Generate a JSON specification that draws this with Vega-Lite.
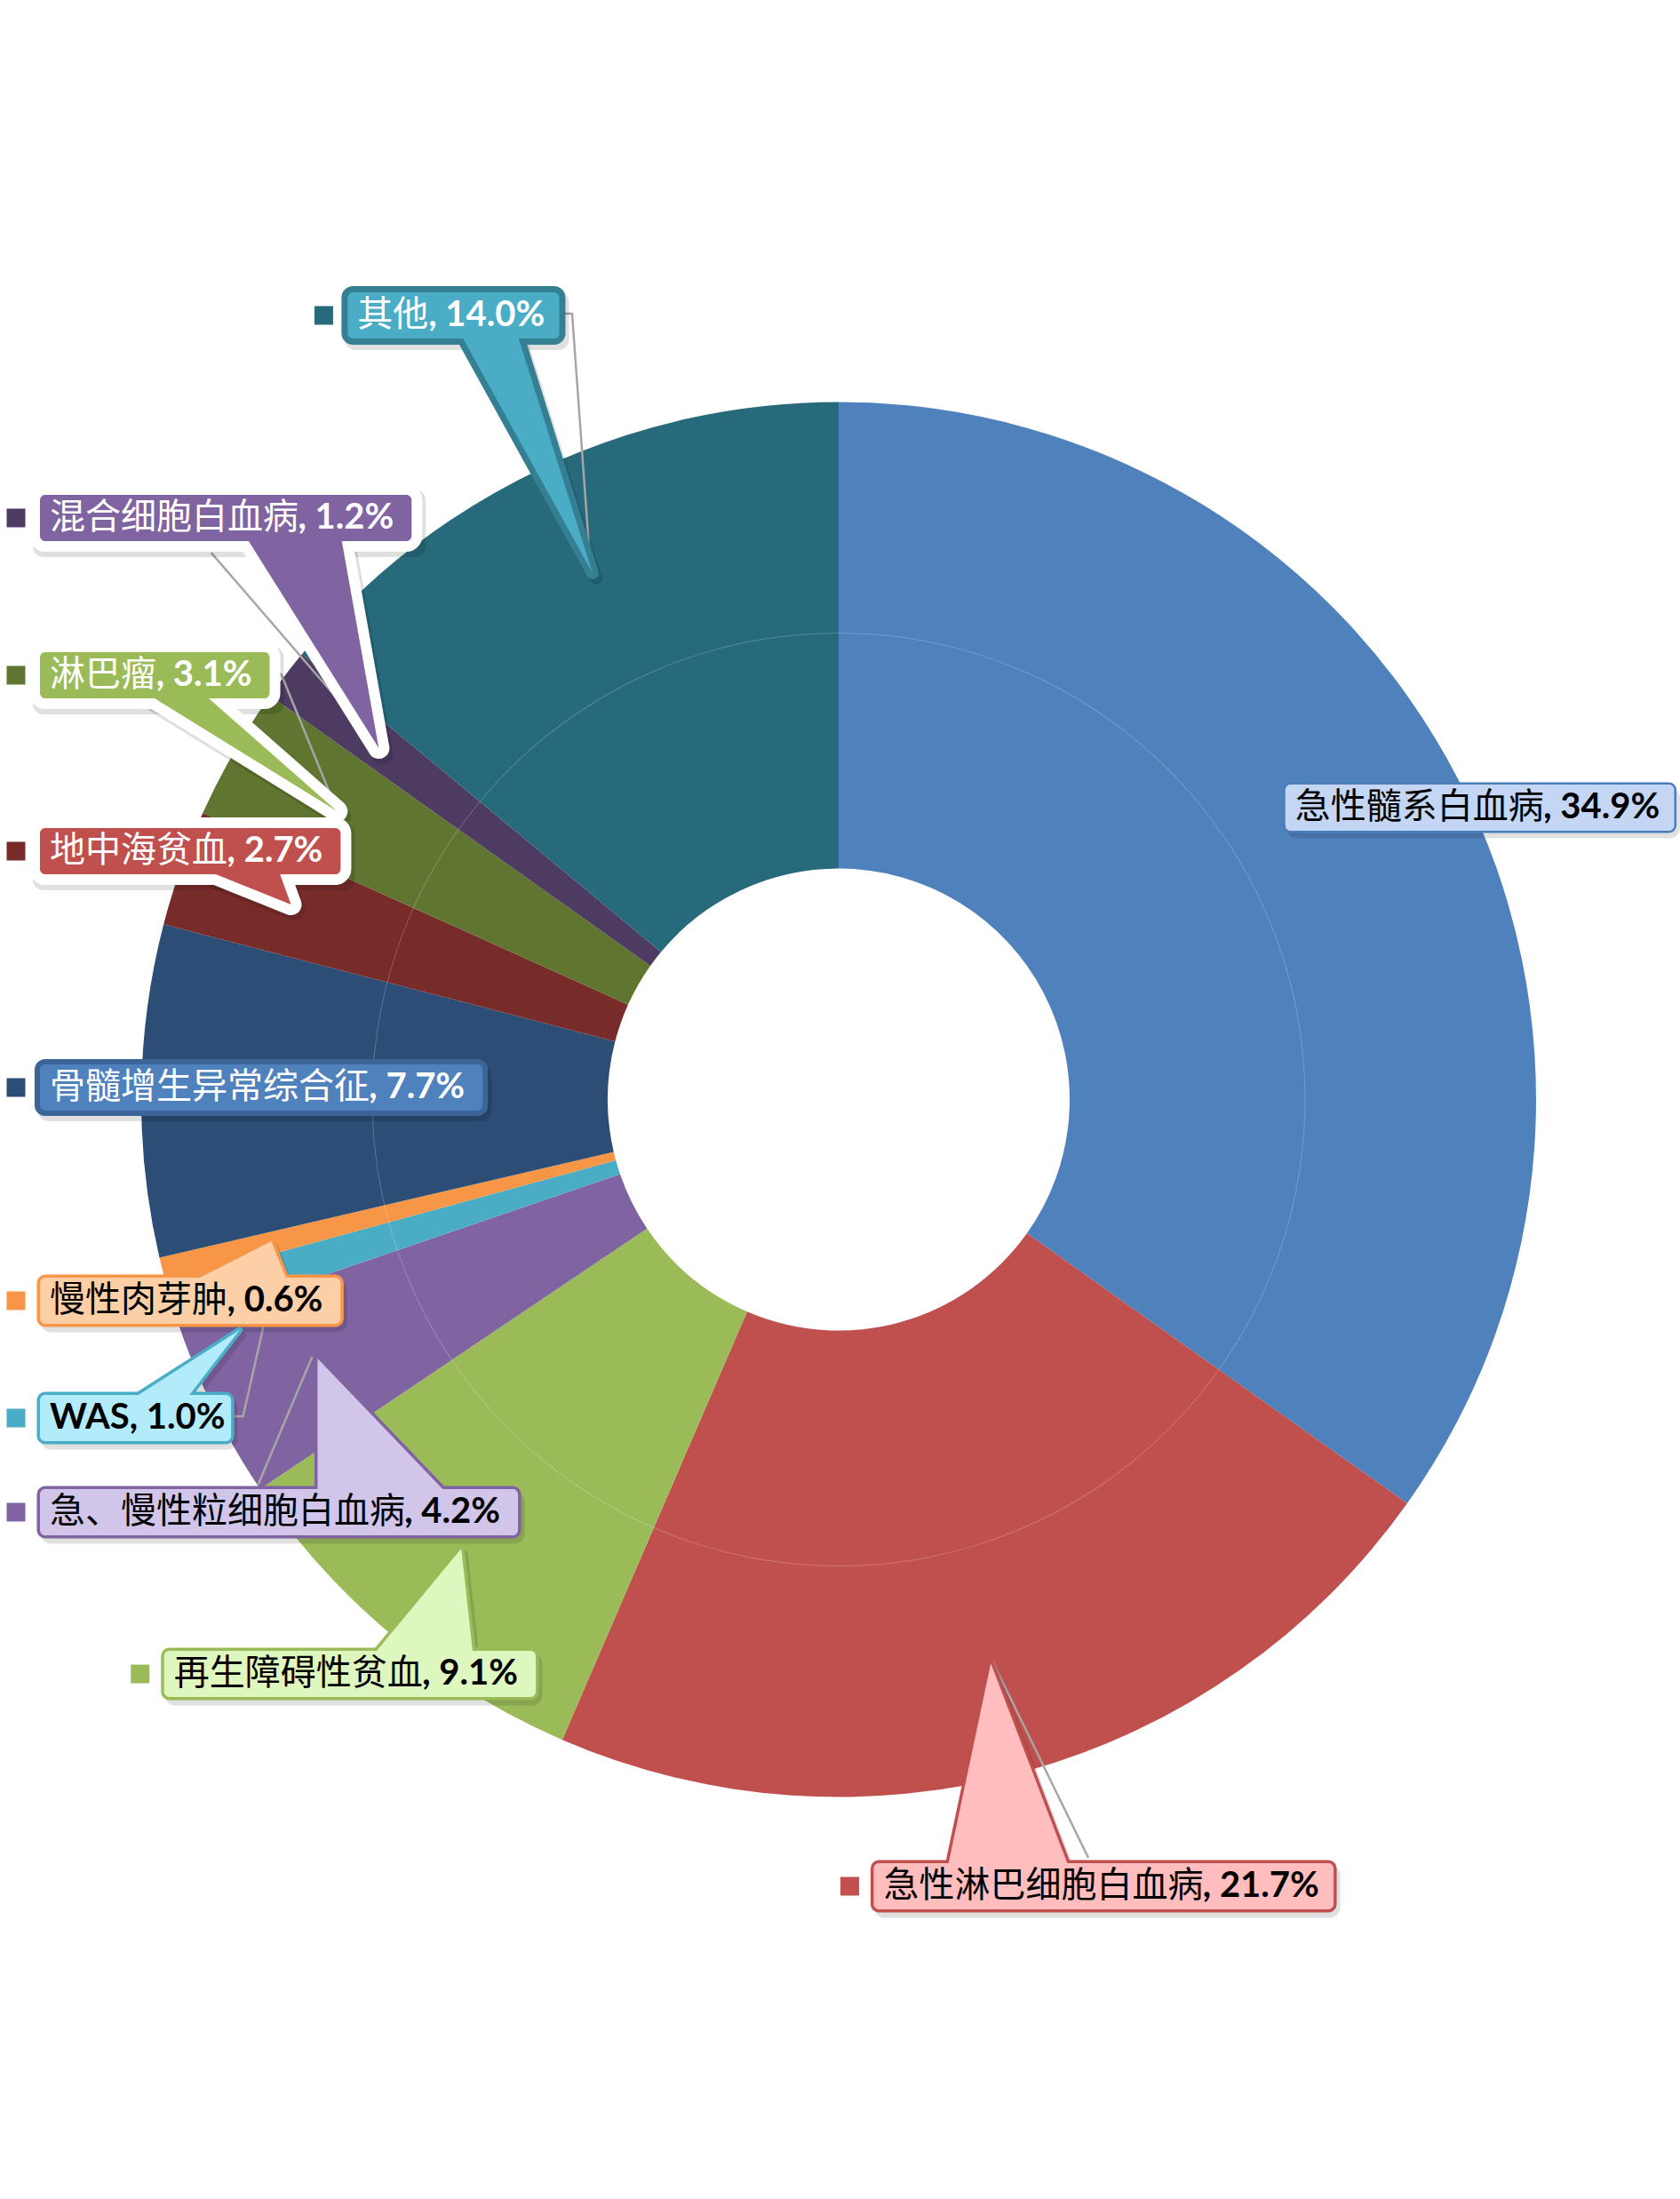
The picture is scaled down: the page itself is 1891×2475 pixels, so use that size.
{
  "$schema": "https://vega.github.io/schema/vega-lite/v6.json",
  "width": 1891,
  "height": 2475,
  "autosize": {"type": "fit", "contains": "padding"},
  "padding": 0,
  "background": "#ffffff",
  "config": {"view": {"stroke": null}},
  "datasets": {
    "cases": [
      {"category": "急性髓系白血病", "value": 34.9},
      {"category": "急性淋巴细胞白血病", "value": 21.7},
      {"category": "再生障碍性贫血", "value": 9.1},
      {"category": "急、慢性粒细胞白血病", "value": 4.2},
      {"category": "WAS", "value": 1.0},
      {"category": "慢性肉芽肿", "value": 0.6},
      {"category": "骨髓增生异常综合征", "value": 7.7},
      {"category": "地中海贫血", "value": 2.7},
      {"category": "淋巴瘤", "value": 3.1},
      {"category": "混合细胞白血病", "value": 1.2},
      {"category": "其他", "value": 14.0}
    ],
    "callouts": [
      {"category": "急性髓系白血病", "tx": 0.6554, "ty": -0.4185},
      {"category": "急性淋巴细胞白血病", "tx": 0.0643, "ty": 1.128},
      {"category": "再生障碍性贫血", "tx": -0.9548, "ty": 0.8236},
      {"category": "急、慢性粒细胞白血病", "tx": -1.1331, "ty": 0.5917},
      {"category": "WAS", "tx": -1.1331, "ty": 0.4567},
      {"category": "慢性肉芽肿", "tx": -1.1331, "ty": 0.2885},
      {"category": "骨髓增生异常综合征", "tx": -1.1331, "ty": -0.0172},
      {"category": "地中海贫血", "tx": -1.1331, "ty": -0.3561},
      {"category": "淋巴瘤", "tx": -1.1331, "ty": -0.6083},
      {"category": "混合细胞白血病", "tx": -1.1331, "ty": -0.8338},
      {"category": "其他", "tx": -0.6911, "ty": -1.1242}
    ],
    "pointers": [
      {"category": "急性淋巴细胞白血病", "v": 1.0975, "a": 0.1573, "b": 0.3293},
      {"category": "急性淋巴细胞白血病", "v": 0.8083, "a": 0.2185, "b": 0.2185},
      {"category": "再生障碍性贫血", "v": 0.793, "a": -0.6656, "b": -0.5255},
      {"category": "再生障碍性贫血", "v": 0.6439, "a": -0.542, "b": -0.542},
      {"category": "急、慢性粒细胞白血病", "v": 0.5611, "a": -0.7484, "b": -0.5662},
      {"category": "急、慢性粒细胞白血病", "v": 0.3713, "a": -0.7484, "b": -0.7484},
      {"category": "WAS", "v": 0.4261, "a": -1.0096, "b": -0.9344},
      {"category": "WAS", "v": 0.3306, "a": -0.8605, "b": -0.8605},
      {"category": "慢性肉芽肿", "v": 0.258, "a": -0.9229, "b": -0.793},
      {"category": "慢性肉芽肿", "v": 0.2032, "a": -0.8146, "b": -0.8146},
      {"category": "地中海贫血", "v": -0.3255, "a": -0.9013, "b": -0.8032},
      {"category": "地中海贫血", "v": -0.2796, "a": -0.7866, "b": -0.7866},
      {"category": "淋巴瘤", "v": -0.5777, "a": -0.9866, "b": -0.9076},
      {"category": "淋巴瘤", "v": -0.4134, "a": -0.7204, "b": -0.7204},
      {"category": "混合细胞白血病", "v": -0.8032, "a": -0.849, "b": -0.714},
      {"category": "混合细胞白血病", "v": -0.5038, "a": -0.6605, "b": -0.6605},
      {"category": "其他", "v": -1.0936, "a": -0.5408, "b": -0.4605},
      {"category": "其他", "v": -0.7548, "a": -0.3535, "b": -0.3535}
    ],
    "leaders": [
      {"category": "其他", "k": 0, "u": -0.4057, "v": -1.1268},
      {"category": "其他", "k": 1, "u": -0.3828, "v": -1.1268},
      {"category": "其他", "k": 2, "u": -0.3573, "v": -0.7739},
      {"category": "混合细胞白血病", "k": 0, "u": -0.9013, "v": -0.7841},
      {"category": "混合细胞白血病", "k": 1, "u": -0.6885, "v": -0.5382},
      {"category": "淋巴瘤", "k": 0, "u": -0.8223, "v": -0.6096},
      {"category": "淋巴瘤", "k": 1, "u": -0.8006, "v": -0.6096},
      {"category": "淋巴瘤", "k": 2, "u": -0.7306, "v": -0.4389},
      {"category": "WAS", "k": 0, "u": -0.8822, "v": 0.4541},
      {"category": "WAS", "k": 1, "u": -0.8554, "v": 0.4541},
      {"category": "WAS", "k": 2, "u": -0.8223, "v": 0.3089},
      {"category": "急、慢性粒细胞白血病", "k": 0, "u": -0.8338, "v": 0.5522},
      {"category": "急、慢性粒细胞白血病", "k": 1, "u": -0.7561, "v": 0.3688},
      {"category": "急性淋巴细胞白血病", "k": 0, "u": 0.3586, "v": 1.0873},
      {"category": "急性淋巴细胞白血病", "k": 1, "u": 0.221, "v": 0.8057}
    ]
  },
  "layer": [
    {
      "data": {"name": "cases"},
      "transform": [{"window": [{"op": "row_number", "as": "idx"}]}],
      "mark": {"type": "arc", "outerRadius": 785, "innerRadius": 260},
      "encoding": {
        "theta": {"field": "value", "type": "quantitative", "stack": true},
        "order": {"field": "idx", "type": "quantitative"},
        "fill": {
          "field": "category",
          "type": "nominal",
          "scale": {
            "domain": ["急性髓系白血病", "急性淋巴细胞白血病", "再生障碍性贫血", "急、慢性粒细胞白血病", "WAS", "慢性肉芽肿", "骨髓增生异常综合征", "地中海贫血", "淋巴瘤", "混合细胞白血病", "其他"],
            "range": ["#4F81BD", "#C0504D", "#9BBB59", "#8064A2", "#4BACC6", "#F79646", "#2C4D75", "#772C2A", "#5F7530", "#4D3B62", "#276A7C"]
          },
          "legend": null
        }
      }
    },
    {
      "data": {"values": [{}]},
      "mark": {"type": "arc", "innerRadius": 524.5, "outerRadius": 525.5, "theta": 0, "theta2": 6.2832, "fill": "#ffffff", "opacity": 0.22},
      "encoding": {}
    },
    {
      "data": {"name": "leaders"},
      "mark": {"type": "line", "color": "#A6A6A6", "strokeWidth": 2.5},
      "encoding": {
        "x": {"field": "u", "type": "quantitative", "scale": {"domain": [-1.20446, 1.20446], "nice": false, "zero": false}, "axis": null},
        "y": {"field": "v", "type": "quantitative", "scale": {"domain": [-1.57643, 1.57643], "nice": false, "zero": false, "reverse": true}, "axis": null},
        "detail": {"field": "category", "type": "nominal"},
        "order": {"field": "k", "type": "quantitative"}
      }
    },
    {
      "data": {"name": "pointers"},
      "transform": [
        {"calculate": "indexof(['地中海贫血', '淋巴瘤', '混合细胞白血病'], datum.category) >= 0 ? 24 : datum.category == '其他' ? 14 : 7", "as": "sw"},
        {"calculate": "datum.a + 4 / 785", "as": "sa"},
        {"calculate": "datum.b + 4 / 785", "as": "sb"},
        {"calculate": "datum.v + 6 / 785", "as": "sv"}
      ],
      "mark": {"type": "area", "orient": "horizontal", "strokeJoin": "round", "color": "#000000", "stroke": "#000000", "opacity": 0.12},
      "encoding": {
        "y": {"field": "sv", "type": "quantitative", "scale": {"domain": [-1.57643, 1.57643], "nice": false, "zero": false, "reverse": true}, "axis": null},
        "x": {"field": "sa", "type": "quantitative", "stack": null, "scale": {"domain": [-1.20446, 1.20446], "nice": false, "zero": false}, "axis": null},
        "x2": {"field": "sb"},
        "detail": {"field": "category", "type": "nominal"},
        "strokeWidth": {"field": "sw", "type": "quantitative", "scale": null}
      }
    },
    {
      "data": {"name": "callouts"},
      "transform": [
        {"lookup": "category", "from": {"data": {"name": "cases"}, "key": "category", "fields": ["value"]}},
        {"calculate": "test(regexp('^[A-Za-z]+$'), datum.category)", "as": "latin"},
        {"calculate": "format(datum.value, '.1f') + '%'", "as": "pct"},
        {"calculate": "datum.latin ? '' : datum.category", "as": "nameText"},
        {"calculate": "datum.latin ? datum.category + ', ' + datum.pct : ', ' + datum.pct", "as": "boldText"},
        {"calculate": "datum.tx + length(datum.nameText) * 40 / 785", "as": "bx"},
        {"calculate": "indexof(['地中海贫血', '淋巴瘤', '混合细胞白血病'], datum.category) >= 0 ? 24 : datum.category == '其他' ? 14 : datum.category == '骨髓增生异常综合征' ? 12 : datum.category == '急性髓系白血病' ? 5 : 7", "as": "sw"},
        {"calculate": "datum.tx - (11 + datum.sw / 2 - 4) / 785", "as": "x0"},
        {"calculate": "datum.bx + length(datum.boldText) * (datum.latin ? 21.5 : 19.5) / 785 + (11 + datum.sw / 2 + 4) / 785", "as": "x1"},
        {"calculate": "datum.ty - (26 + datum.sw / 2 - 6) / 785", "as": "y0"},
        {"calculate": "datum.ty + (26 + datum.sw / 2 + 6) / 785", "as": "y1"}
      ],
      "mark": {"type": "rect", "cornerRadius": 12, "color": "#000000", "opacity": 0.12},
      "encoding": {
        "x": {"field": "x0", "type": "quantitative", "scale": {"domain": [-1.20446, 1.20446], "nice": false, "zero": false}, "axis": null},
        "x2": {"field": "x1"},
        "y": {"field": "y0", "type": "quantitative", "scale": {"domain": [-1.57643, 1.57643], "nice": false, "zero": false, "reverse": true}, "axis": null},
        "y2": {"field": "y1"}
      }
    },
    {
      "data": {"name": "callouts"},
      "transform": [
        {"lookup": "category", "from": {"data": {"name": "cases"}, "key": "category", "fields": ["value"]}},
        {"calculate": "test(regexp('^[A-Za-z]+$'), datum.category)", "as": "latin"},
        {"calculate": "format(datum.value, '.1f') + '%'", "as": "pct"},
        {"calculate": "datum.latin ? '' : datum.category", "as": "nameText"},
        {"calculate": "datum.latin ? datum.category + ', ' + datum.pct : ', ' + datum.pct", "as": "boldText"},
        {"calculate": "datum.tx + length(datum.nameText) * 40 / 785", "as": "bx"},
        {"calculate": "datum.tx - 11 / 785", "as": "x0"},
        {"calculate": "datum.bx + length(datum.boldText) * (datum.latin ? 21.5 : 19.5) / 785 + 11 / 785", "as": "x1"},
        {"calculate": "datum.ty - 26 / 785", "as": "y0"},
        {"calculate": "datum.ty + 26 / 785", "as": "y1"},
        {"calculate": "indexof(['地中海贫血', '淋巴瘤', '混合细胞白血病'], datum.category) >= 0 ? 24 : datum.category == '其他' ? 14 : datum.category == '骨髓增生异常综合征' ? 12 : datum.category == '急性髓系白血病' ? 5 : 7", "as": "sw"}
      ],
      "mark": {"type": "rect", "cornerRadius": 6, "strokeJoin": "round"},
      "encoding": {
        "x": {"field": "x0", "type": "quantitative", "scale": {"domain": [-1.20446, 1.20446], "nice": false, "zero": false}, "axis": null},
        "x2": {"field": "x1"},
        "y": {"field": "y0", "type": "quantitative", "scale": {"domain": [-1.57643, 1.57643], "nice": false, "zero": false, "reverse": true}, "axis": null},
        "y2": {"field": "y1"},
        "fill": {
          "field": "category", "type": "nominal", "legend": null,
          "scale": {
            "domain": ["急性髓系白血病", "急性淋巴细胞白血病", "再生障碍性贫血", "急、慢性粒细胞白血病", "WAS", "慢性肉芽肿", "骨髓增生异常综合征", "地中海贫血", "淋巴瘤", "混合细胞白血病", "其他"],
            "range": ["#4A7EBB", "#C0504D", "#9BBB59", "#8064A2", "#4BACC6", "#F79646", "#3B6597", "#FFFFFF", "#FFFFFF", "#FFFFFF", "#357F93"]
          }
        },
        "stroke": {
          "field": "category", "type": "nominal", "legend": null,
          "scale": {
            "domain": ["急性髓系白血病", "急性淋巴细胞白血病", "再生障碍性贫血", "急、慢性粒细胞白血病", "WAS", "慢性肉芽肿", "骨髓增生异常综合征", "地中海贫血", "淋巴瘤", "混合细胞白血病", "其他"],
            "range": ["#4A7EBB", "#C0504D", "#9BBB59", "#8064A2", "#4BACC6", "#F79646", "#3B6597", "#FFFFFF", "#FFFFFF", "#FFFFFF", "#357F93"]
          }
        },
        "strokeWidth": {"field": "sw", "type": "quantitative", "scale": null}
      }
    },
    {
      "data": {"name": "pointers"},
      "transform": [
        {"calculate": "indexof(['地中海贫血', '淋巴瘤', '混合细胞白血病'], datum.category) >= 0 ? 24 : datum.category == '其他' ? 14 : 7", "as": "sw"}
      ],
      "mark": {"type": "area", "orient": "horizontal", "strokeJoin": "round"},
      "encoding": {
        "y": {"field": "v", "type": "quantitative", "scale": {"domain": [-1.57643, 1.57643], "nice": false, "zero": false, "reverse": true}, "axis": null},
        "x": {"field": "a", "type": "quantitative", "stack": null, "scale": {"domain": [-1.20446, 1.20446], "nice": false, "zero": false}, "axis": null},
        "x2": {"field": "b"},
        "detail": {"field": "category", "type": "nominal"},
        "fill": {
          "field": "category", "type": "nominal", "legend": null,
          "scale": {
            "domain": ["急性髓系白血病", "急性淋巴细胞白血病", "再生障碍性贫血", "急、慢性粒细胞白血病", "WAS", "慢性肉芽肿", "骨髓增生异常综合征", "地中海贫血", "淋巴瘤", "混合细胞白血病", "其他"],
            "range": ["#4A7EBB", "#C0504D", "#9BBB59", "#8064A2", "#4BACC6", "#F79646", "#3B6597", "#FFFFFF", "#FFFFFF", "#FFFFFF", "#357F93"]
          }
        },
        "stroke": {
          "field": "category", "type": "nominal", "legend": null,
          "scale": {
            "domain": ["急性髓系白血病", "急性淋巴细胞白血病", "再生障碍性贫血", "急、慢性粒细胞白血病", "WAS", "慢性肉芽肿", "骨髓增生异常综合征", "地中海贫血", "淋巴瘤", "混合细胞白血病", "其他"],
            "range": ["#4A7EBB", "#C0504D", "#9BBB59", "#8064A2", "#4BACC6", "#F79646", "#3B6597", "#FFFFFF", "#FFFFFF", "#FFFFFF", "#357F93"]
          }
        },
        "strokeWidth": {"field": "sw", "type": "quantitative", "scale": null}
      }
    },
    {
      "data": {"name": "pointers"},
      "mark": {"type": "area", "orient": "horizontal"},
      "encoding": {
        "y": {"field": "v", "type": "quantitative", "scale": {"domain": [-1.57643, 1.57643], "nice": false, "zero": false, "reverse": true}, "axis": null},
        "x": {"field": "a", "type": "quantitative", "stack": null, "scale": {"domain": [-1.20446, 1.20446], "nice": false, "zero": false}, "axis": null},
        "x2": {"field": "b"},
        "detail": {"field": "category", "type": "nominal"},
        "fill": {
          "field": "category", "type": "nominal", "legend": null,
          "scale": {
            "domain": ["急性髓系白血病", "急性淋巴细胞白血病", "再生障碍性贫血", "急、慢性粒细胞白血病", "WAS", "慢性肉芽肿", "骨髓增生异常综合征", "地中海贫血", "淋巴瘤", "混合细胞白血病", "其他"],
            "range": ["#C4D6F4", "#FFBDBD", "#DEF7BE", "#D2C5EA", "#B2EBFA", "#FCCFA6", "#4F81BD", "#C0504D", "#9BBB59", "#8064A2", "#4BACC6"]
          }
        }
      }
    },
    {
      "data": {"name": "callouts"},
      "transform": [
        {"lookup": "category", "from": {"data": {"name": "cases"}, "key": "category", "fields": ["value"]}},
        {"calculate": "test(regexp('^[A-Za-z]+$'), datum.category)", "as": "latin"},
        {"calculate": "format(datum.value, '.1f') + '%'", "as": "pct"},
        {"calculate": "datum.latin ? '' : datum.category", "as": "nameText"},
        {"calculate": "datum.latin ? datum.category + ', ' + datum.pct : ', ' + datum.pct", "as": "boldText"},
        {"calculate": "datum.tx + length(datum.nameText) * 40 / 785", "as": "bx"},
        {"calculate": "datum.tx - 11 / 785", "as": "x0"},
        {"calculate": "datum.bx + length(datum.boldText) * (datum.latin ? 21.5 : 19.5) / 785 + 11 / 785", "as": "x1"},
        {"calculate": "datum.ty - 26 / 785", "as": "y0"},
        {"calculate": "datum.ty + 26 / 785", "as": "y1"}
      ],
      "mark": {"type": "rect", "cornerRadius": 6},
      "encoding": {
        "x": {"field": "x0", "type": "quantitative", "scale": {"domain": [-1.20446, 1.20446], "nice": false, "zero": false}, "axis": null},
        "x2": {"field": "x1"},
        "y": {"field": "y0", "type": "quantitative", "scale": {"domain": [-1.57643, 1.57643], "nice": false, "zero": false, "reverse": true}, "axis": null},
        "y2": {"field": "y1"},
        "fill": {
          "field": "category", "type": "nominal", "legend": null,
          "scale": {
            "domain": ["急性髓系白血病", "急性淋巴细胞白血病", "再生障碍性贫血", "急、慢性粒细胞白血病", "WAS", "慢性肉芽肿", "骨髓增生异常综合征", "地中海贫血", "淋巴瘤", "混合细胞白血病", "其他"],
            "range": ["#C4D6F4", "#FFBDBD", "#DEF7BE", "#D2C5EA", "#B2EBFA", "#FCCFA6", "#4F81BD", "#C0504D", "#9BBB59", "#8064A2", "#4BACC6"]
          }
        }
      }
    },
    {
      "data": {"name": "callouts"},
      "transform": [
        {"calculate": "datum.tx - 38 / 785", "as": "sqx"}
      ],
      "mark": {"type": "square", "size": 441, "filled": true, "opacity": 1},
      "encoding": {
        "x": {"field": "sqx", "type": "quantitative", "scale": {"domain": [-1.20446, 1.20446], "nice": false, "zero": false}, "axis": null},
        "y": {"field": "ty", "type": "quantitative", "scale": {"domain": [-1.57643, 1.57643], "nice": false, "zero": false, "reverse": true}, "axis": null},
        "fill": {
          "field": "category", "type": "nominal", "legend": null,
          "scale": {
            "domain": ["急性髓系白血病", "急性淋巴细胞白血病", "再生障碍性贫血", "急、慢性粒细胞白血病", "WAS", "慢性肉芽肿", "骨髓增生异常综合征", "地中海贫血", "淋巴瘤", "混合细胞白血病", "其他"],
            "range": ["#4F81BD", "#C0504D", "#9BBB59", "#8064A2", "#4BACC6", "#F79646", "#2C4D75", "#772C2A", "#5F7530", "#4D3B62", "#276A7C"]
          }
        }
      }
    },
    {
      "data": {"name": "callouts"},
      "transform": [
        {"calculate": "test(regexp('^[A-Za-z]+$'), datum.category) ? '' : datum.category", "as": "nameText"}
      ],
      "mark": {"type": "text", "align": "left", "baseline": "middle", "font": "Noto Sans CJK SC", "fontSize": 40},
      "encoding": {
        "x": {"field": "tx", "type": "quantitative", "scale": {"domain": [-1.20446, 1.20446], "nice": false, "zero": false}, "axis": null},
        "y": {"field": "ty", "type": "quantitative", "scale": {"domain": [-1.57643, 1.57643], "nice": false, "zero": false, "reverse": true}, "axis": null},
        "text": {"field": "nameText", "type": "nominal"},
        "color": {
          "field": "category", "type": "nominal", "legend": null,
          "scale": {
            "domain": ["急性髓系白血病", "急性淋巴细胞白血病", "再生障碍性贫血", "急、慢性粒细胞白血病", "WAS", "慢性肉芽肿", "骨髓增生异常综合征", "地中海贫血", "淋巴瘤", "混合细胞白血病", "其他"],
            "range": ["#000000", "#000000", "#000000", "#000000", "#000000", "#000000", "#FFFFFF", "#FFFFFF", "#FFFFFF", "#FFFFFF", "#FFFFFF"]
          }
        }
      }
    },
    {
      "data": {"name": "callouts"},
      "transform": [
        {"lookup": "category", "from": {"data": {"name": "cases"}, "key": "category", "fields": ["value"]}},
        {"calculate": "test(regexp('^[A-Za-z]+$'), datum.category)", "as": "latin"},
        {"calculate": "format(datum.value, '.1f') + '%'", "as": "pct"},
        {"calculate": "datum.latin ? '' : datum.category", "as": "nameText"},
        {"calculate": "datum.latin ? datum.category + ', ' + datum.pct : ', ' + datum.pct", "as": "boldText"},
        {"calculate": "datum.tx + length(datum.nameText) * 40 / 785", "as": "bx"}
      ],
      "mark": {"type": "text", "align": "left", "baseline": "middle", "font": "Lato", "fontWeight": "bold", "fontSize": 40},
      "encoding": {
        "x": {"field": "bx", "type": "quantitative", "scale": {"domain": [-1.20446, 1.20446], "nice": false, "zero": false}, "axis": null},
        "y": {"field": "ty", "type": "quantitative", "scale": {"domain": [-1.57643, 1.57643], "nice": false, "zero": false, "reverse": true}, "axis": null},
        "text": {"field": "boldText", "type": "nominal"},
        "color": {
          "field": "category", "type": "nominal", "legend": null,
          "scale": {
            "domain": ["急性髓系白血病", "急性淋巴细胞白血病", "再生障碍性贫血", "急、慢性粒细胞白血病", "WAS", "慢性肉芽肿", "骨髓增生异常综合征", "地中海贫血", "淋巴瘤", "混合细胞白血病", "其他"],
            "range": ["#000000", "#000000", "#000000", "#000000", "#000000", "#000000", "#FFFFFF", "#FFFFFF", "#FFFFFF", "#FFFFFF", "#FFFFFF"]
          }
        }
      }
    }
  ],
  "resolve": {"scale": {"fill": "independent", "stroke": "independent", "color": "independent"}}
}
